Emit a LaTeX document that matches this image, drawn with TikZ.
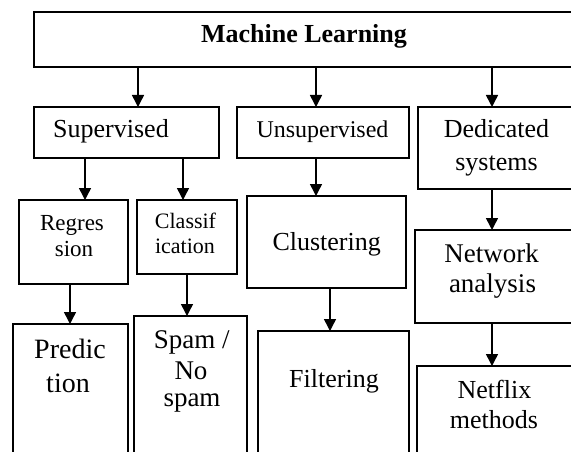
\documentclass[tikz,border=0pt]{standalone}
\usepackage{fontspec}
\setmainfont{Liberation Serif}
\usetikzlibrary{arrows.meta}
\tikzset{
  box/.style={draw=black, line width=1.2pt, rectangle, inner sep=0pt, outer sep=0pt},
  arr/.style={draw=black, line width=1.5pt, -{Triangle[length=12pt,width=12pt]}, shorten >=0pt},
  txt/.style={anchor=base, inner sep=0pt, outer sep=0pt, font=\fontsize{#1pt}{#1pt}\selectfont},
}
\begin{document}
\begin{tikzpicture}[x=1pt,y=-1pt]
\useasboundingbox (0,0) rectangle (571,452);
\clip (0,0) rectangle (571,452);
% boxes
\node[box, minimum width=546pt, minimum height=55pt] (ml)  at (307,39.5) {};
\node[box, minimum width=185pt, minimum height=51pt] (sup) at (126.5,132.5) {};
\node[box, minimum width=172pt, minimum height=51pt] (uns) at (323,132.5) {};
\node[box, minimum width=162pt, minimum height=82pt] (ded) at (499,148) {};
\node[box, minimum width=109pt, minimum height=84pt] (reg) at (73.5,242) {};
\node[box, minimum width=100pt, minimum height=74pt] (cla) at (187,237) {};
\node[box, minimum width=159pt, minimum height=92pt] (clu) at (326.5,242) {};
\node[box, minimum width=165pt, minimum height=93pt] (net) at (497.5,276.5) {};
\node[box, minimum width=115pt, minimum height=146pt] (pre) at (70.5,397) {};
\node[box, minimum width=113pt, minimum height=154pt] (spa) at (190.5,393) {};
\node[box, minimum width=151pt, minimum height=139pt] (fil) at (333.5,400.5) {};
\node[box, minimum width=163pt, minimum height=104pt] (nfx) at (498.5,418) {};
% texts
\node[txt=26, font=\fontsize{26pt}{26pt}\selectfont\bfseries] (tml) at (304,43) {Machine Learning};
\node[txt=26] (tsup) at (111,138) {Supervised};
\node[txt=24] (tuns) at (322.5,138) {Unsupervised};
\node[txt=26] (tded1) at (496.5,138) {Dedicated};
\node[txt=26] (tded2) at (496.5,170) {systems};
\node[txt=23] (treg1) at (72,230) {Regres};
\node[txt=23] (treg2) at (74,256) {sion};
\node[txt=22] (tcla1) at (185.5,228) {Classif};
\node[txt=22] (tcla2) at (185,253) {ication};
\node[txt=26] (tclu) at (326.7,250) {Clustering};
\node[txt=27] (tnet1) at (491.7,262) {Network};
\node[txt=27] (tnet2) at (492.5,292) {analysis};
\node[txt=28] (tpre1) at (70,358) {Predic};
\node[txt=28] (tpre2) at (68,392) {tion};
\node[txt=27] (tspa1) at (191.7,348) {Spam /};
\node[txt=27] (tspa2) at (191,379) {No};
\node[txt=27] (tspa3) at (192,406) {spam};
\node[txt=26] (tfil) at (334,387) {Filtering};
\node[txt=26] (tnfx1) at (494.5,398) {Netflix};
\node[txt=26] (tnfx2) at (494,428) {methods};
% connectors
\draw[arr] (138,0 |- ml.south) -- (138,0 |- sup.north);
\draw[arr] (316,0 |- ml.south) -- (316,0 |- uns.north);
\draw[arr] (492,0 |- ml.south) -- (492,0 |- ded.north);
\draw[arr] (85,0 |- sup.south) -- (85,0 |- reg.north);
\draw[arr] (183,0 |- sup.south) -- (183,0 |- cla.north);
\draw[arr] (316,0 |- uns.south) -- (316,0 |- clu.north);
\draw[arr] (492,0 |- ded.south) -- (492,0 |- net.north);
\draw[arr] (70,0 |- reg.south) -- (70,0 |- pre.north);
\draw[arr] (187,0 |- cla.south) -- (187,0 |- spa.north);
\draw[arr] (330,0 |- clu.south) -- (330,0 |- fil.north);
\draw[arr] (492,0 |- net.south) -- (492,0 |- nfx.north);
\end{tikzpicture}
\end{document}
